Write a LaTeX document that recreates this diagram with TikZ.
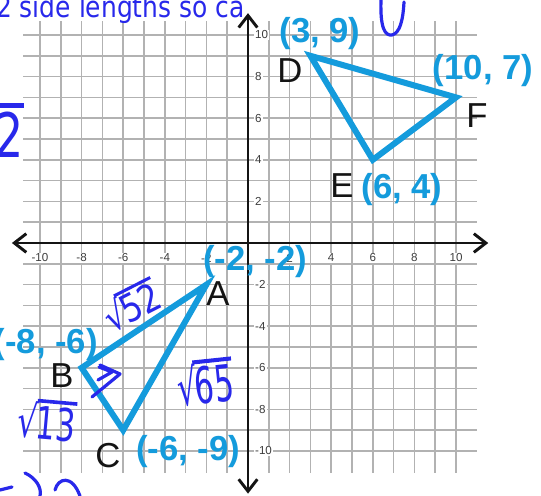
\documentclass[tikz,border=0pt]{standalone}
\usepackage{fontspec}
\setmainfont{Liberation Sans}
\newfontfamily\handfont{DejaVu Sans}
\usetikzlibrary{arrows.meta}
\definecolor{triblue}{RGB}{20,155,220}
\definecolor{inkblue}{RGB}{40,40,235}
\definecolor{gridgray}{RGB}{178,178,178}
\definecolor{axisblack}{RGB}{20,20,20}
\definecolor{ticktext}{RGB}{60,60,60}
\newcommand{\hsqrt}[1]{√\kern-0.06em\vbox{\hrule height 0.08em\kern0.06em\hbox{#1}}}
\begin{document}
\begin{tikzpicture}[x=0.75pt,y=-0.75pt,
  gridline/.style={gridgray, line width=1.1pt},
  axisline/.style={axisblack, line width=2.2pt, {Straight Barb[length=9pt,width=14pt]}-{Straight Barb[length=9pt,width=14pt]}},
  tri/.style={triblue, line width=4.5pt, line join=miter},
  ticklab/.style={font=\fontsize{8.7}{9}\selectfont, text=ticktext, fill=white, inner sep=0.8pt},
  vlab/.style={font=\fontsize{26}{28}\selectfont, text=axisblack, inner sep=0pt, anchor=base},
  clab/.style={font=\fontsize{26}{28}\selectfont\bfseries, text=triblue, inner sep=0pt, anchor=base},
  hand/.style={text=inkblue, inner sep=0pt, transform shape},
  handline/.style={inkblue, line width=2.4pt, line cap=round, line join=round}
]
\useasboundingbox (0,0) rectangle (541,495);
\fill[white] (0,0) rectangle (541,495);
\begin{scope}[shift={(248,243)}, x=15.6pt, y=15.6pt]
  \foreach \i in {-10,...,10} {
    \draw[gridline] (\i,-11.05) -- (\i,10.65);
    \draw[gridline] (-10.8,\i) -- (11,\i);
  }
  \coordinate (xl) at (-11.35,0); \coordinate (xr) at (11.55,0);
  \coordinate (yb) at (0,-12.05); \coordinate (yt) at (0,11.05);
  \draw[axisline] (xl) -- (xr);
  \draw[axisline] (yb) -- (yt);
  \foreach \v [count=\k] in {-10,-8,-6,-4,-2,2,4,6,8,10} {
    \node[ticklab] (xt\k) at (\v,-0.72) {\v};
    \node[ticklab, anchor=west] (yt\k) at (0.28,\v) {\v};
  }
  \coordinate (A) at (-2,-2);
  \coordinate (B) at (-8,-6);
  \coordinate (C) at (-6,-9);
  \coordinate (D) at (3,9);
  \coordinate (E) at (6,4);
  \coordinate (F) at (10,7);
  \draw[tri] (A) -- (B) -- (C) -- cycle;
  \draw[tri] (D) -- (E) -- (F) -- cycle;
\end{scope}
% vertex letters
\node[vlab] (labA) at (218,305) {A};
\node[vlab] (labB) at (62,387) {B};
\node[vlab] (labC) at (108,467) {C};
\node[vlab] (labD) at (290,83) {D};
\node[vlab] (labE) at (342,197) {E};
\node[vlab] (labF) at (477,128) {F};
% coordinates
\node[clab] (cD) at (320,43) {(3, 9)};
\node[clab] (cF) at (483,80) {(10, 7)};
\node[clab] (cE) at (402,198) {(6, 4)};
\node[clab] (cA) at (255,270) {(-2, -2)};
\node[clab, anchor=base east] (cB) at (98,353) {(-8, -6)};
\node[clab] (cC) at (188,460) {(-6, -9)};
% handwriting
\node[hand, anchor=base west, xscale=0.85, font=\handfont\fontsize{22}{23}\selectfont] (htop) at (-4,18) {2 side lengths so ca};
\node[hand, rotate=27, yscale=1.2, font=\handfont\fontsize{24}{25}\selectfont] (h52) at (131,305) {\hsqrt{52}};
\node[hand, rotate=6, xscale=0.85, yscale=1.4, font=\handfont\fontsize{27}{28}\selectfont] (h65) at (205,382) {\hsqrt{65}};
\node[hand, rotate=-5, xscale=0.9, yscale=1.3, font=\handfont\fontsize{26}{27}\selectfont] (h13) at (47,420) {\hsqrt{13}};
\node[hand, anchor=base east, xscale=0.75, font=\handfont\fontsize{46}{48}\selectfont] (hleft) at (24,157) {\hsqrt{2}};
\coordinate (u1) at (381,0); \coordinate (u2) at (392,35); \coordinate (u3) at (404,2);
\draw[handline] (u1) .. controls (380,28) and (385,36) .. (u2) .. controls (400,33) and (403,20) .. (u3);
\coordinate (m1) at (92,397); \coordinate (m2) at (120,374); \coordinate (m3) at (100,365);
\coordinate (m4) at (98,380); \coordinate (m5) at (112,372); \coordinate (m6) at (99,367);
\draw[handline] (m1) -- (m2) -- (m3);
\draw[handline] (m4) -- (m5) -- (m6);
\coordinate (s1) at (0,490); \coordinate (s2) at (12,487);
\draw[handline] (s1) -- (s2);
\coordinate (s3) at (25,473); \coordinate (s4) at (40,496);
\draw[handline] (s3) .. controls (36,478) and (42,488) .. (s4);
\coordinate (s5) at (55,490); \coordinate (s6) at (80,496);
\draw[handline] (s5) .. controls (58,478) and (72,474) .. (s6);
\end{tikzpicture}
\end{document}
